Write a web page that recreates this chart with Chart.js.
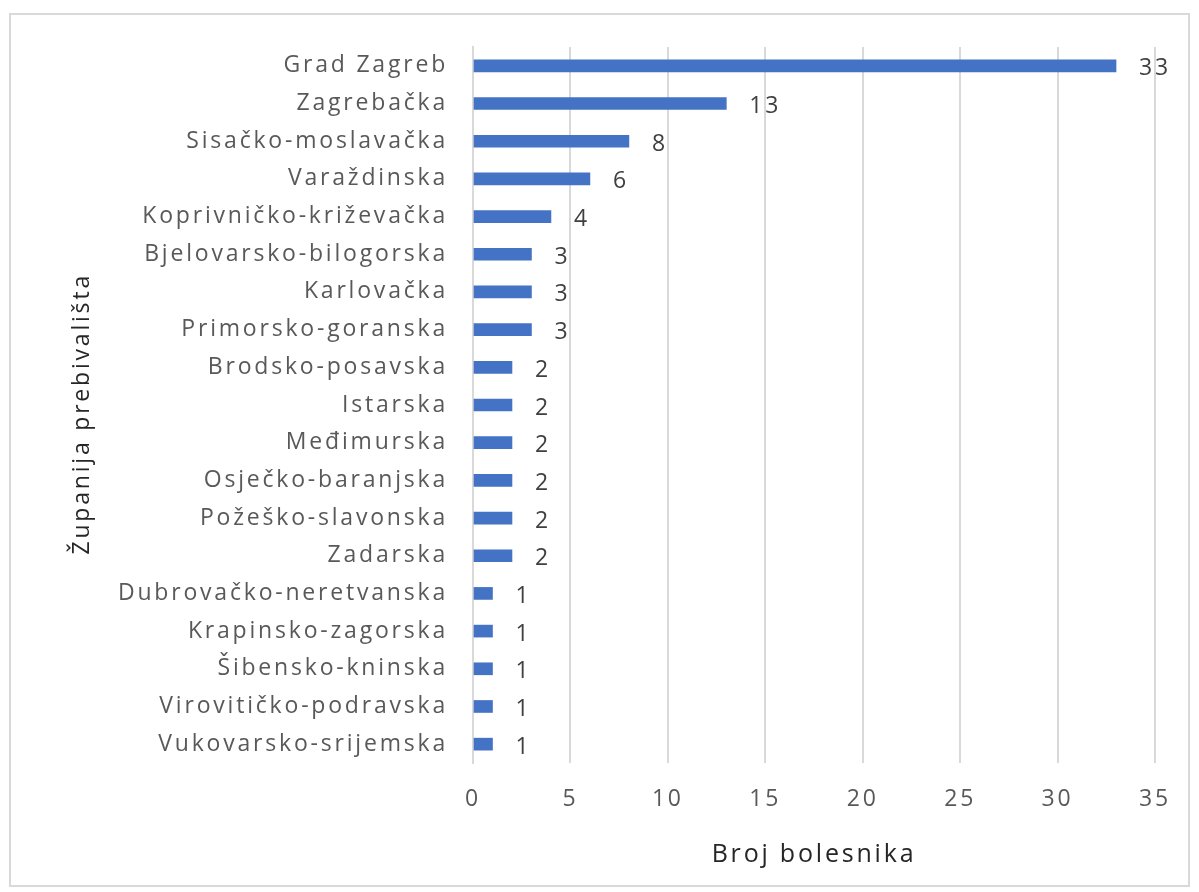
<!DOCTYPE html>
<html>
<head>
<meta charset="utf-8">
<script src="https://cdn.jsdelivr.net/npm/chart.js@4"></script>
<style>
  html, body { margin: 0; padding: 0; background: #fff; }
  #wrap { position: relative; width: 1199px; height: 892px; }
  #frame { position: absolute; left: 9px; top: 13px; width: 1181px; height: 874px; border: 2px solid #d9d9d9; box-sizing: border-box; }
  canvas { position: absolute; left: 0; top: 0; }
</style>
</head>
<body>
<div id="wrap">
  <div id="frame"></div>
  <canvas id="chart" width="1199" height="892"></canvas>
</div>
<script>
const counties = [
  'Grad Zagreb', 'Zagrebačka', 'Sisačko-moslavačka', 'Varaždinska',
  'Koprivničko-križevačka', 'Bjelovarsko-bilogorska', 'Karlovačka',
  'Primorsko-goranska', 'Brodsko-posavska', 'Istarska', 'Međimurska',
  'Osječko-baranjska', 'Požeško-slavonska', 'Zadarska',
  'Dubrovačko-neretvanska', 'Krapinsko-zagorska', 'Šibensko-kninska',
  'Virovitičko-podravska', 'Vukovarsko-srijemska'
];
const patients = [33, 13, 8, 6, 4, 3, 3, 3, 2, 2, 2, 2, 2, 2, 1, 1, 1, 1, 1];
const xTicks = [0, 5, 10, 15, 20, 25, 30, 35];

const fontFamily = '"Open Sans", "Liberation Sans", sans-serif';
const spacing = '2.8px';

// the original text is spaced out, so widen every glyph a little
const letterSpacing = {
  id: 'letterSpacing',
  beforeLayout(chart) { chart.ctx.letterSpacing = spacing; },
  beforeDraw(chart) { chart.ctx.letterSpacing = spacing; }
};

// value labels at the end of each bar
const barLabels = {
  id: 'barLabels',
  afterDatasetsDraw(chart) {
    const ctx = chart.ctx;
    const meta = chart.getDatasetMeta(0);
    ctx.save();
    ctx.font = '23px ' + fontFamily;
    ctx.fillStyle = '#404040';
    ctx.textAlign = 'left';
    ctx.textBaseline = 'middle';
    meta.data.forEach((bar, i) => {
      ctx.fillText(String(patients[i]), bar.x + 23, bar.y + 3);
    });
    ctx.restore();
  }
};

new Chart(document.getElementById('chart'), {
  type: 'bar',
  data: {
    labels: counties,
    datasets: [{
      data: patients,
      backgroundColor: '#4472C4',
      barThickness: 12
    }]
  },
  options: {
    indexAxis: 'y',
    responsive: false,
    animation: false,
    layout: { padding: { top: 47, right: 44, bottom: 0, left: 0 } },
    plugins: {
      legend: { display: false },
      tooltip: { enabled: false }
    },
    scales: {
      x: {
        min: 0,
        max: 35,
        afterBuildTicks: axis => { axis.ticks = xTicks.map(v => ({ value: v })); },
        afterFit: axis => { axis.height = 129; },
        grid: { color: '#d9d9d9', lineWidth: 2, drawTicks: false },
        border: { display: false },
        ticks: { color: '#595959', font: { family: fontFamily, size: 23 }, padding: 23 },
        title: {
          display: true,
          text: 'Broj bolesnika',
          color: '#262626',
          font: { family: fontFamily, size: 25 },
          padding: { top: 0, bottom: 22 }
        }
      },
      y: {
        afterFit: axis => { axis.width = 473; },
        grid: { display: false, drawTicks: false },
        border: { display: true, color: '#d9d9d9', width: 2 },
        ticks: { color: '#595959', font: { family: fontFamily, size: 23 }, padding: 25, autoSkip: false },
        title: {
          display: true,
          text: 'Županija prebivališta  ',
          color: '#262626',
          font: { family: fontFamily, size: 23 },
          padding: { top: 69, bottom: 0 }
        }
      }
    }
  },
  plugins: [letterSpacing, barLabels]
});
</script>
</body>
</html>
